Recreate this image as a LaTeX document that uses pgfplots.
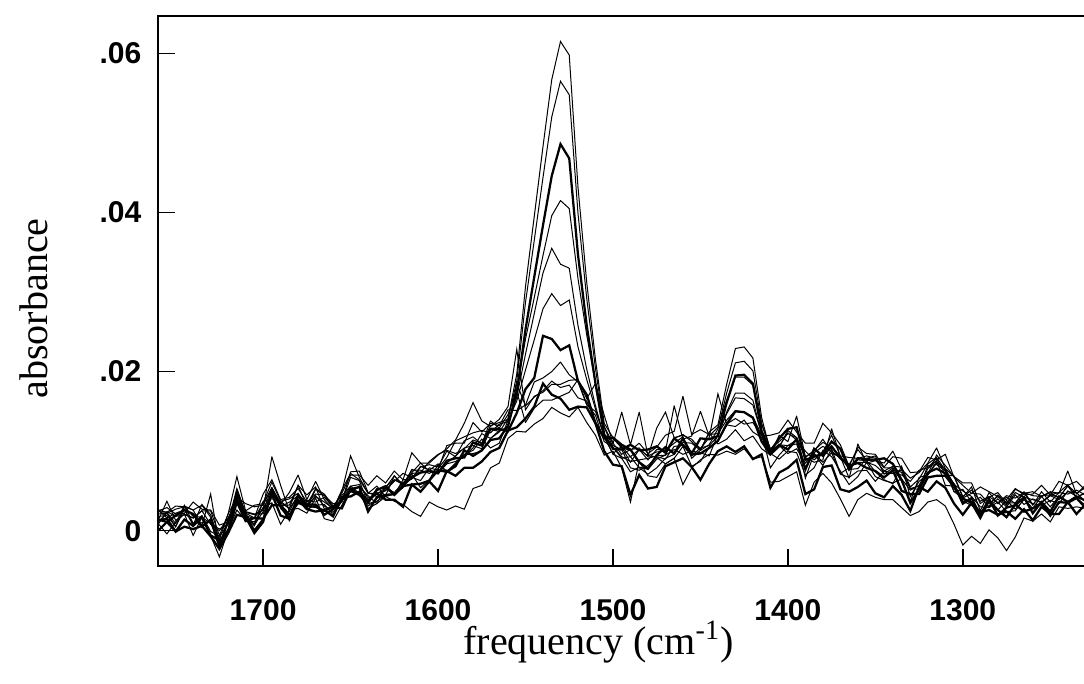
\documentclass[border=0pt]{standalone}
\usepackage{fontspec}
\setmainfont{Liberation Serif}
\newfontfamily\ticksf{Liberation Sans}
\usepackage{pgfplots}
\usepackage{pgfplotstable}
\pgfplotsset{compat=1.18}
\pgfplotstableread{
x a b c d e f g h i j k l m
1760 0.0013 0.0018 0.0000 0.0026 0.0024 0.0011 0.0013 0.0021 0.0008 0.0025 0.0014 0.0026 0.0009
1755 0.0037 0.0019 0.0011 0.0023 0.0023 0.0022 0.0015 0.0022 0.0024 0.0029 0.0011 0.0016 -0.0004
1750 0.0013 0.0005 0.0019 0.0031 0.0009 0.0005 -0.0001 0.0027 0.0018 0.0021 -0.0001 0.0022 0.0011
1745 0.0021 0.0027 0.0026 0.0030 0.0032 0.0031 0.0014 0.0030 0.0020 0.0022 0.0005 0.0026 0.0021
1740 0.0016 0.0007 0.0021 0.0026 0.0009 0.0026 0.0006 0.0018 0.0016 0.0036 0.0002 0.0009 -0.0006
1735 0.0025 0.0033 0.0005 0.0032 0.0019 0.0006 0.0017 0.0017 0.0025 0.0027 0.0006 0.0010 0.0017
1730 0.0025 0.0020 0.0014 0.0017 -0.0001 0.0046 -0.0006 0.0009 0.0008 0.0026 -0.0007 0.0010 -0.0006
1725 -0.0006 -0.0013 -0.0020 -0.0011 -0.0007 -0.0019 -0.0012 0.0002 0.0000 0.0007 -0.0023 -0.0016 -0.0033
1720 0.0021 0.0002 0.0013 0.0021 0.0008 0.0001 -0.0001 0.0008 0.0016 0.0011 -0.0003 -0.0001 0.0001
1715 0.0068 0.0045 0.0039 0.0042 0.0050 0.0042 0.0036 0.0047 0.0036 0.0053 0.0020 0.0052 0.0026
1710 0.0025 0.0019 0.0019 0.0034 0.0017 0.0014 0.0012 0.0023 0.0024 0.0022 0.0017 0.0021 0.0013
1705 0.0032 0.0015 0.0000 0.0030 0.0006 0.0011 0.0016 0.0020 0.0021 0.0016 -0.0003 0.0007 0.0009
1700 0.0034 0.0035 0.0014 0.0032 0.0037 0.0029 0.0015 0.0026 0.0021 0.0046 0.0011 0.0024 0.0029
1695 0.0054 0.0061 0.0046 0.0054 0.0040 0.0045 0.0032 0.0093 0.0048 0.0064 0.0050 0.0054 0.0035
1690 0.0035 0.0037 0.0019 0.0033 0.0037 0.0032 0.0032 0.0057 0.0030 0.0039 0.0031 0.0028 0.0008
1685 0.0028 0.0040 0.0015 0.0048 0.0028 0.0032 0.0020 0.0024 0.0036 0.0042 0.0014 0.0017 0.0026
1680 0.0057 0.0047 0.0044 0.0070 0.0043 0.0057 0.0035 0.0046 0.0044 0.0053 0.0039 0.0038 0.0028
1675 0.0045 0.0032 0.0033 0.0039 0.0031 0.0030 0.0031 0.0028 0.0027 0.0036 0.0027 0.0038 0.0022
1670 0.0055 0.0053 0.0033 0.0062 0.0044 0.0043 0.0030 0.0052 0.0032 0.0046 0.0024 0.0036 0.0041
1665 0.0027 0.0046 0.0020 0.0039 0.0031 0.0036 0.0025 0.0044 0.0033 0.0045 0.0026 0.0042 0.0015
1660 0.0031 0.0031 0.0027 0.0027 0.0023 0.0028 0.0030 0.0034 0.0020 0.0028 0.0018 0.0030 0.0012
1655 0.0044 0.0036 0.0039 0.0051 0.0038 0.0049 0.0028 0.0036 0.0037 0.0047 0.0042 0.0038 0.0032
1650 0.0056 0.0067 0.0050 0.0072 0.0049 0.0094 0.0052 0.0074 0.0052 0.0070 0.0043 0.0056 0.0054
1645 0.0058 0.0063 0.0045 0.0064 0.0055 0.0067 0.0055 0.0075 0.0045 0.0070 0.0049 0.0047 0.0046
1640 0.0041 0.0034 0.0035 0.0047 0.0044 0.0047 0.0024 0.0048 0.0037 0.0057 0.0038 0.0031 0.0028
1635 0.0046 0.0037 0.0051 0.0047 0.0034 0.0056 0.0042 0.0043 0.0053 0.0069 0.0047 0.0040 0.0034
1630 0.0054 0.0044 0.0056 0.0050 0.0055 0.0043 0.0045 0.0051 0.0053 0.0060 0.0039 0.0054 0.0043
1625 0.0069 0.0069 0.0045 0.0064 0.0064 0.0046 0.0046 0.0062 0.0045 0.0075 0.0039 0.0048 0.0037
1620 0.0058 0.0056 0.0056 0.0060 0.0058 0.0054 0.0057 0.0072 0.0064 0.0064 0.0030 0.0060 0.0033
1615 0.0073 0.0077 0.0058 0.0065 0.0076 0.0071 0.0067 0.0067 0.0065 0.0098 0.0058 0.0072 0.0024
1610 0.0085 0.0073 0.0059 0.0080 0.0076 0.0054 0.0073 0.0063 0.0081 0.0085 0.0049 0.0073 0.0018
1605 0.0075 0.0087 0.0063 0.0083 0.0072 0.0064 0.0075 0.0079 0.0076 0.0085 0.0062 0.0076 0.0036
1600 0.0072 0.0096 0.0076 0.0080 0.0078 0.0083 0.0072 0.0076 0.0084 0.0095 0.0050 0.0073 0.0030
1595 0.0084 0.0101 0.0074 0.0100 0.0092 0.0074 0.0088 0.0107 0.0075 0.0103 0.0075 0.0085 0.0026
1590 0.0087 0.0097 0.0081 0.0093 0.0113 0.0085 0.0091 0.0110 0.0083 0.0114 0.0069 0.0094 0.0031
1585 0.0094 0.0103 0.0101 0.0113 0.0118 0.0096 0.0092 0.0110 0.0095 0.0135 0.0079 0.0104 0.0027
1580 0.0104 0.0114 0.0094 0.0118 0.0123 0.0101 0.0111 0.0136 0.0097 0.0161 0.0079 0.0107 0.0053
1575 0.0122 0.0110 0.0101 0.0109 0.0126 0.0115 0.0107 0.0124 0.0100 0.0138 0.0087 0.0103 0.0057
1570 0.0116 0.0132 0.0114 0.0138 0.0123 0.0104 0.0128 0.0135 0.0116 0.0131 0.0099 0.0127 0.0079
1565 0.0124 0.0136 0.0116 0.0129 0.0134 0.0110 0.0128 0.0132 0.0126 0.0140 0.0104 0.0125 0.0085
1560 0.0141 0.0140 0.0132 0.0146 0.0137 0.0139 0.0125 0.0152 0.0128 0.0156 0.0126 0.0131 0.0116
1555 0.0197 0.0188 0.0173 0.0177 0.0168 0.0163 0.0148 0.0151 0.0185 0.0228 0.0130 0.0175 0.0125
1550 0.0307 0.0287 0.0253 0.0241 0.0222 0.0202 0.0178 0.0158 0.0157 0.0152 0.0141 0.0136 0.0124
1545 0.0395 0.0365 0.0319 0.0293 0.0273 0.0240 0.0192 0.0187 0.0168 0.0169 0.0156 0.0154 0.0134
1540 0.0483 0.0444 0.0384 0.0346 0.0324 0.0279 0.0245 0.0192 0.0176 0.0174 0.0185 0.0164 0.0141
1535 0.0567 0.0520 0.0446 0.0396 0.0355 0.0298 0.0241 0.0200 0.0188 0.0184 0.0171 0.0164 0.0155
1530 0.0615 0.0565 0.0486 0.0415 0.0335 0.0283 0.0227 0.0212 0.0180 0.0184 0.0166 0.0169 0.0148
1525 0.0598 0.0548 0.0468 0.0405 0.0330 0.0290 0.0233 0.0196 0.0183 0.0189 0.0152 0.0174 0.0143
1520 0.0432 0.0399 0.0347 0.0317 0.0258 0.0231 0.0188 0.0187 0.0167 0.0190 0.0156 0.0190 0.0155
1515 0.0312 0.0292 0.0258 0.0246 0.0203 0.0190 0.0171 0.0158 0.0163 0.0166 0.0155 0.0159 0.0136
1510 0.0215 0.0204 0.0185 0.0185 0.0157 0.0153 0.0135 0.0150 0.0137 0.0185 0.0135 0.0145 0.0120
1505 0.0135 0.0130 0.0121 0.0131 0.0117 0.0119 0.0116 0.0120 0.0117 0.0145 0.0100 0.0112 0.0095
1500 0.0117 0.0105 0.0103 0.0109 0.0097 0.0096 0.0117 0.0116 0.0107 0.0110 0.0083 0.0105 0.0100
1495 0.0105 0.0091 0.0102 0.0149 0.0106 0.0091 0.0108 0.0104 0.0102 0.0096 0.0081 0.0093 0.0079
1490 0.0086 0.0093 0.0108 0.0108 0.0093 0.0074 0.0102 0.0101 0.0079 0.0102 0.0045 0.0087 0.0036
1485 0.0102 0.0079 0.0101 0.0149 0.0102 0.0080 0.0086 0.0110 0.0076 0.0104 0.0070 0.0089 0.0087
1480 0.0089 0.0071 0.0102 0.0094 0.0094 0.0077 0.0078 0.0097 0.0082 0.0093 0.0053 0.0091 0.0069
1475 0.0102 0.0079 0.0106 0.0099 0.0093 0.0090 0.0095 0.0105 0.0092 0.0129 0.0055 0.0094 0.0067
1470 0.0101 0.0091 0.0098 0.0100 0.0090 0.0095 0.0105 0.0120 0.0084 0.0149 0.0081 0.0095 0.0084
1465 0.0110 0.0096 0.0116 0.0157 0.0106 0.0102 0.0097 0.0125 0.0091 0.0117 0.0086 0.0116 0.0091
1460 0.0118 0.0111 0.0108 0.0115 0.0107 0.0096 0.0116 0.0169 0.0106 0.0120 0.0091 0.0121 0.0058
1455 0.0091 0.0110 0.0097 0.0119 0.0094 0.0100 0.0096 0.0121 0.0081 0.0115 0.0080 0.0112 0.0079
1450 0.0101 0.0101 0.0116 0.0150 0.0104 0.0098 0.0097 0.0127 0.0087 0.0103 0.0064 0.0102 0.0089
1445 0.0124 0.0108 0.0115 0.0119 0.0107 0.0094 0.0104 0.0121 0.0105 0.0117 0.0084 0.0123 0.0096
1440 0.0133 0.0128 0.0119 0.0130 0.0119 0.0121 0.0113 0.0122 0.0112 0.0172 0.0100 0.0109 0.0095
1435 0.0184 0.0173 0.0161 0.0164 0.0149 0.0147 0.0134 0.0139 0.0133 0.0134 0.0106 0.0115 0.0100
1430 0.0229 0.0211 0.0195 0.0193 0.0173 0.0167 0.0150 0.0151 0.0131 0.0141 0.0099 0.0127 0.0096
1425 0.0231 0.0213 0.0196 0.0193 0.0173 0.0166 0.0149 0.0149 0.0139 0.0134 0.0106 0.0113 0.0103
1420 0.0217 0.0201 0.0185 0.0183 0.0164 0.0158 0.0142 0.0143 0.0124 0.0136 0.0090 0.0119 0.0090
1415 0.0142 0.0135 0.0125 0.0134 0.0121 0.0122 0.0112 0.0120 0.0117 0.0119 0.0096 0.0103 0.0093
1410 0.0100 0.0101 0.0100 0.0103 0.0099 0.0079 0.0096 0.0095 0.0097 0.0120 0.0054 0.0095 0.0061
1405 0.0107 0.0108 0.0116 0.0112 0.0106 0.0095 0.0108 0.0120 0.0090 0.0123 0.0073 0.0105 0.0062
1400 0.0097 0.0107 0.0128 0.0122 0.0123 0.0107 0.0102 0.0112 0.0100 0.0139 0.0079 0.0126 0.0068
1395 0.0103 0.0109 0.0130 0.0117 0.0114 0.0114 0.0115 0.0144 0.0098 0.0124 0.0089 0.0117 0.0074
1390 0.0085 0.0077 0.0089 0.0092 0.0100 0.0066 0.0077 0.0093 0.0070 0.0110 0.0046 0.0092 0.0032
1385 0.0096 0.0098 0.0093 0.0086 0.0089 0.0097 0.0103 0.0100 0.0079 0.0110 0.0052 0.0101 0.0061
1380 0.0082 0.0106 0.0097 0.0089 0.0099 0.0086 0.0094 0.0115 0.0101 0.0135 0.0080 0.0111 0.0072
1375 0.0103 0.0100 0.0112 0.0128 0.0120 0.0098 0.0106 0.0098 0.0093 0.0123 0.0082 0.0105 0.0060
1370 0.0072 0.0091 0.0103 0.0093 0.0094 0.0071 0.0091 0.0092 0.0075 0.0108 0.0052 0.0094 0.0040
1365 0.0079 0.0080 0.0077 0.0066 0.0092 0.0067 0.0082 0.0083 0.0058 0.0081 0.0049 0.0077 0.0018
1360 0.0089 0.0086 0.0091 0.0109 0.0091 0.0075 0.0085 0.0102 0.0068 0.0105 0.0055 0.0078 0.0039
1355 0.0088 0.0086 0.0090 0.0085 0.0094 0.0076 0.0079 0.0088 0.0086 0.0097 0.0063 0.0091 0.0047
1350 0.0074 0.0082 0.0089 0.0088 0.0091 0.0062 0.0075 0.0089 0.0068 0.0096 0.0047 0.0094 0.0042
1345 0.0064 0.0072 0.0091 0.0085 0.0079 0.0075 0.0067 0.0075 0.0063 0.0080 0.0042 0.0071 0.0039
1340 0.0059 0.0072 0.0084 0.0100 0.0079 0.0072 0.0076 0.0081 0.0060 0.0093 0.0056 0.0079 0.0039
1335 0.0081 0.0076 0.0064 0.0077 0.0062 0.0070 0.0050 0.0080 0.0065 0.0091 0.0045 0.0073 0.0029
1330 0.0043 0.0053 0.0035 0.0066 0.0037 0.0062 0.0046 0.0055 0.0051 0.0073 0.0025 0.0053 0.0019
1325 0.0062 0.0052 0.0052 0.0073 0.0067 0.0076 0.0046 0.0065 0.0057 0.0074 0.0055 0.0056 0.0024
1320 0.0071 0.0082 0.0073 0.0085 0.0070 0.0079 0.0067 0.0084 0.0078 0.0092 0.0049 0.0070 0.0036
1315 0.0095 0.0083 0.0078 0.0104 0.0085 0.0091 0.0069 0.0092 0.0088 0.0089 0.0062 0.0087 0.0039
1310 0.0082 0.0075 0.0072 0.0078 0.0078 0.0070 0.0069 0.0076 0.0057 0.0096 0.0054 0.0077 0.0031
1305 0.0068 0.0049 0.0058 0.0068 0.0058 0.0069 0.0055 0.0049 0.0056 0.0067 0.0034 0.0053 0.0008
1300 0.0042 0.0041 0.0034 0.0060 0.0050 0.0043 0.0040 0.0052 0.0037 0.0057 0.0020 0.0041 -0.0018
1295 0.0055 0.0036 0.0041 0.0060 0.0043 0.0051 0.0035 0.0036 0.0032 0.0047 0.0035 0.0047 -0.0007
1290 0.0025 0.0042 0.0019 0.0034 0.0030 0.0037 0.0016 0.0024 0.0022 0.0055 0.0023 0.0046 -0.0016
1285 0.0048 0.0030 0.0040 0.0042 0.0029 0.0043 0.0038 0.0031 0.0037 0.0049 0.0026 0.0034 0.0001
1280 0.0034 0.0040 0.0019 0.0048 0.0036 0.0035 0.0026 0.0045 0.0026 0.0043 0.0020 0.0043 -0.0009
1275 0.0042 0.0030 0.0029 0.0034 0.0024 0.0044 0.0017 0.0035 0.0038 0.0039 0.0024 0.0032 -0.0025
1270 0.0034 0.0045 0.0032 0.0052 0.0025 0.0041 0.0033 0.0035 0.0027 0.0053 0.0015 0.0048 -0.0008
1265 0.0047 0.0033 0.0042 0.0047 0.0040 0.0048 0.0024 0.0049 0.0039 0.0045 0.0027 0.0042 0.0016
1260 0.0032 0.0040 0.0022 0.0049 0.0028 0.0044 0.0028 0.0033 0.0034 0.0046 0.0013 0.0039 0.0012
1255 0.0049 0.0035 0.0036 0.0043 0.0043 0.0043 0.0035 0.0044 0.0032 0.0057 0.0030 0.0036 0.0021
1250 0.0036 0.0044 0.0024 0.0049 0.0030 0.0048 0.0019 0.0045 0.0038 0.0045 0.0021 0.0045 0.0011
1245 0.0048 0.0039 0.0043 0.0047 0.0043 0.0041 0.0036 0.0042 0.0034 0.0062 0.0021 0.0048 0.0030
1240 0.0058 0.0049 0.0036 0.0075 0.0036 0.0057 0.0035 0.0056 0.0050 0.0057 0.0036 0.0046 0.0028
1235 0.0042 0.0048 0.0043 0.0046 0.0041 0.0047 0.0041 0.0042 0.0043 0.0062 0.0021 0.0051 0.0030
1230 0.0047 0.0036 0.0038 0.0057 0.0032 0.0054 0.0029 0.0048 0.0038 0.0051 0.0033 0.0045 0.0028
}\spectra
\begin{document}
\begin{tikzpicture}
\begin{axis}[name=ax, scale only axis, width=370.4pt, height=219.6pt,
  xmin=1230, xmax=1760, x dir=reverse, ymin=-0.0044, ymax=0.0647,
  axis line style={line width=0.7pt},
  tick align=inside, xtick pos=left, ytick pos=left,
  major tick length=6.8pt, tick style={line width=0.6pt, black},
  xtick={1300,1400,1500,1600,1700}, xticklabels={1300,1400,1500,1600,1700},
  ytick={0,0.02,0.04,0.06}, yticklabels={0,.02,.04,.06},
  ticklabel style={font=\ticksf\bfseries\fontsize{12}{14}\selectfont},
  xticklabel shift=10pt, yticklabel shift=3.2pt,
  xlabel={frequency (cm\textsuperscript{-1})}, ylabel={absorbance},
  label style={font=\fontsize{16}{19}\selectfont},
  xlabel style={at={(axis description cs:0.475,-0.162)}, anchor=base},
  ylabel style={at={(axis description cs:-0.119,0.468)}, anchor=base},
  cycle list={{black, mark=none, line width=0.9pt, line join=round}}]
\pgfplotsinvokeforeach{a,b,c,d,e,f,g,h,i,j,k,l,m}{\addplot table[x=x,y=#1]{\spectra};}
\end{axis}
\pgfresetboundingbox
\path[use as bounding box] ([xshift=-63.2pt,yshift=-47.2pt]ax.south west) rectangle ([xshift=-0.5pt,yshift=6.4pt]ax.north east);
\end{tikzpicture}
\end{document}
